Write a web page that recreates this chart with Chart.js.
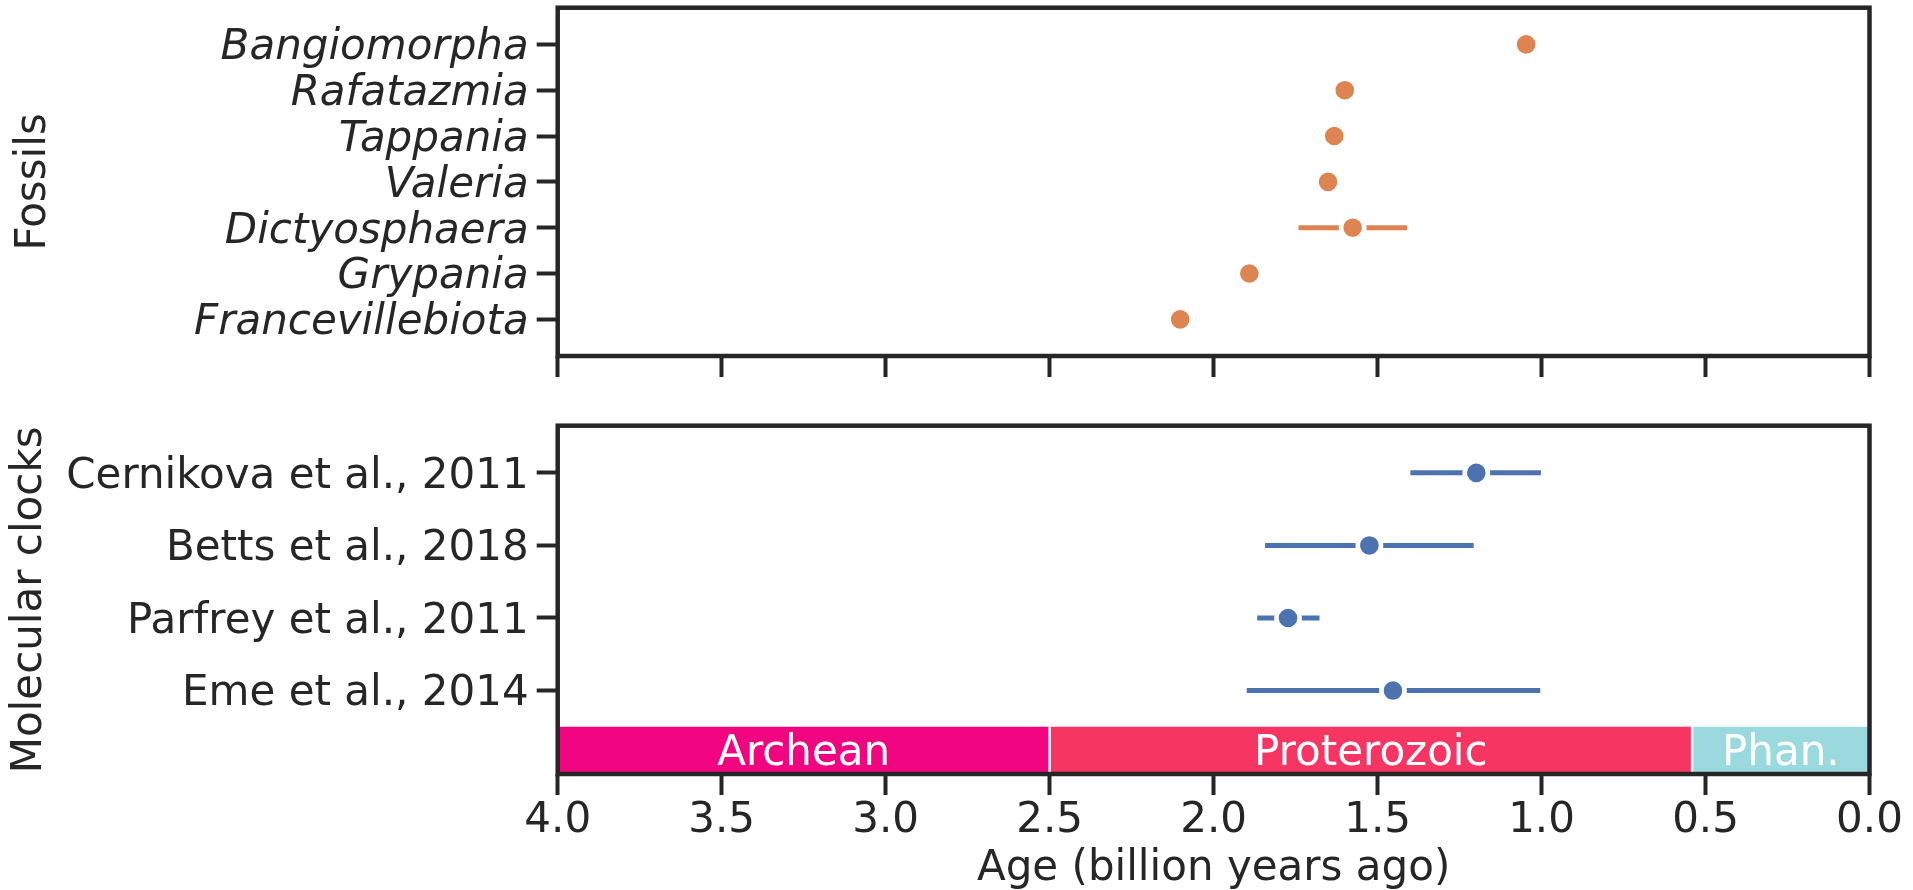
<!DOCTYPE html>
<html>
<head>
  <meta charset="utf-8" />
  <title>Eukaryote origin ages</title>
  <style>
    body { margin: 0; background: #fff; overflow: hidden; }
    canvas { position: absolute; left: 0; }
    #fossil-canvas { top: 0; }
    #clock-canvas { top: 400px; }
  </style>
</head>
<body>
  <canvas id="fossil-canvas" width="1913" height="400"></canvas>
  <canvas id="clock-canvas" width="1913" height="494"></canvas>

  <script src="https://cdn.jsdelivr.net/npm/chart.js"></script>
  <script>
    // fossils (ages in billion years ago)
    const fossilNames = ['Bangiomorpha', 'Rafatazmia', 'Tappania', 'Valeria', 'Dictyosphaera', 'Grypania', 'Francevillebiota'];
    const fossilAge   = [1.047, 1.60, 1.632, 1.651, 1.576, 1.891, 2.102];
    const fossilOld   = [null, null, null, null, 1.741, null, null];
    const fossilYoung = [null, null, null, null, 1.41, null, null];

    // molecular clocks
    const clockNames = ['Cernikova et al., 2011', 'Betts et al., 2018', 'Parfrey et al., 2011', 'Eme et al., 2014'];
    const clockAge   = [1.199, 1.525, 1.773, 1.453];
    const clockOld   = [1.40, 1.843, 1.867, 1.899];
    const clockYoung = [1.002, 1.207, 1.677, 1.004];

    // geological eons
    const eraNames  = ['Archean', 'Proterozoic', 'Phan.'];
    const eraStart  = [4.0, 2.5, 0.541];
    const eraEnd    = [2.5, 0.541, 0.0];
    const eraColors = ['#f0047f', '#f73563', '#9ad9dd'];

    const fossilRange = [-0.8, 6.8];
    const clockRange  = [-0.65, 4.15];
    const eraTop = 3.5;

    const ink = '#262626';
    const orange = '#dd8452';
    const blue = '#4c72b0';

    Chart.defaults.font.family = "'DejaVu Sans', sans-serif";
    Chart.defaults.font.size = 42;
    Chart.defaults.color = ink;

    const framePlugin = {
      id: 'frame',
      afterDraw(chart) {
        const {ctx, chartArea: a} = chart;
        ctx.save();
        ctx.strokeStyle = ink;
        ctx.lineWidth = 4.5;
        ctx.strokeRect(a.left, a.top, a.right - a.left, a.bottom - a.top);
        ctx.restore();
      }
    };

    // white eon names centred in their bands
    const eraLabelPlugin = {
      id: 'eraLabels',
      afterDatasetsDraw(chart) {
        const {ctx, scales: {x, y}} = chart;
        ctx.save();
        ctx.fillStyle = '#fff';
        ctx.font = "42px 'DejaVu Sans'";
        ctx.textAlign = 'center';
        ctx.textBaseline = 'alphabetic';
        eraNames.forEach((name, i) => {
          const cx = x.getPixelForValue((eraStart[i] + eraEnd[i]) / 2);
          const cy = y.getPixelForValue((eraTop + clockRange[1]) / 2);
          ctx.fillText(name, cx, cy + 15);
        });
        ctx.restore();
      }
    };

    function ageAxis(showLabels, height) {
      return {
        type: 'linear', reverse: true, min: 0, max: 4,
        ticks: { stepSize: 0.5, display: showLabels, padding: 1, callback: v => v.toFixed(1) },
        grid: { drawOnChartArea: false, tickLength: 21, tickWidth: 4, tickColor: ink },
        border: { display: false },
        title: { display: showLabels, text: 'Age (billion years ago)', padding: 0 },
        afterFit: s => { s.height = height; s.paddingLeft = 0; s.paddingRight = 0; }
      };
    }

    function rowAxis(names, range, title, titlePad, style) {
      return {
        type: 'linear', reverse: true, min: range[0], max: range[1],
        afterBuildTicks: s => { s.ticks = names.map((_, i) => ({ value: i })); },
        ticks: {
          padding: 8,
          labelOffset: 4,
          font: { family: "'DejaVu Sans', sans-serif", size: 42, style: style },
          callback: v => names[v]
        },
        grid: { drawOnChartArea: false, tickLength: 21, tickWidth: 4, tickColor: ink },
        border: { display: false },
        title: { display: true, text: title, padding: { top: titlePad, bottom: 0 } },
        afterFit: s => { s.width = 557.7; s.paddingTop = 0; s.paddingBottom = 0; }
      };
    }

    function pointSet(ages, color) {
      return {
        type: 'scatter',
        data: ages.map((a, i) => ({ x: a, y: i })),
        pointRadius: 11.6,
        pointBorderWidth: 4.6,
        pointBackgroundColor: color,
        pointBorderColor: '#fff'
      };
    }

    function errorSets(olds, youngs, color) {
      const sets = [];
      olds.forEach((o, i) => {
        if (o === null) return;
        sets.push({
          type: 'line',
          data: [{ x: o, y: i }, { x: youngs[i], y: i }],
          borderColor: color, borderWidth: 5, pointRadius: 0, fill: false
        });
      });
      return sets;
    }

    const baseOptions = {
      responsive: false,
      animation: false,
      events: [],
      plugins: { legend: { display: false }, tooltip: { enabled: false } }
    };

    new Chart(document.getElementById('fossil-canvas'), {
      type: 'scatter',
      data: {
        datasets: [pointSet(fossilAge, orange), ...errorSets(fossilOld, fossilYoung, orange)]
      },
      options: {
        ...baseOptions,
        layout: { autoPadding: false, padding: { top: 7.7, right: 43.5, left: 0, bottom: 0 } },
        scales: {
          x: ageAxis(false, 44),
          y: rowAxis(fossilNames, fossilRange, 'Fossils', 8.5, 'italic')
        }
      },
      plugins: [framePlugin]
    });

    const eraSets = eraNames.map((n, i) => ({
      type: 'line',
      data: [{ x: eraStart[i], y: eraTop }, { x: eraEnd[i], y: eraTop }],
      borderColor: 'rgba(0,0,0,0)', borderWidth: 1, pointRadius: 0,
      backgroundColor: eraColors[i], fill: 'start'
    }));
    const eraEdges = eraEnd.slice(0, -1).map(b => ({
      type: 'line',
      data: [{ x: b, y: eraTop }, { x: b, y: clockRange[1] }],
      borderColor: '#fff', borderWidth: 2.5, pointRadius: 0, fill: false
    }));

    new Chart(document.getElementById('clock-canvas'), {
      type: 'scatter',
      data: {
        datasets: [pointSet(clockAge, blue), ...errorSets(clockOld, clockYoung, blue), ...eraEdges, ...eraSets]
      },
      options: {
        ...baseOptions,
        layout: { autoPadding: false, padding: { top: 25.7, right: 43.5, left: 0, bottom: 0 } },
        scales: {
          x: ageAxis(true, 120),
          y: rowAxis(clockNames, clockRange, 'Molecular clocks', 5, 'normal')
        }
      },
      plugins: [eraLabelPlugin, framePlugin]
    });
  </script>
</body>
</html>
